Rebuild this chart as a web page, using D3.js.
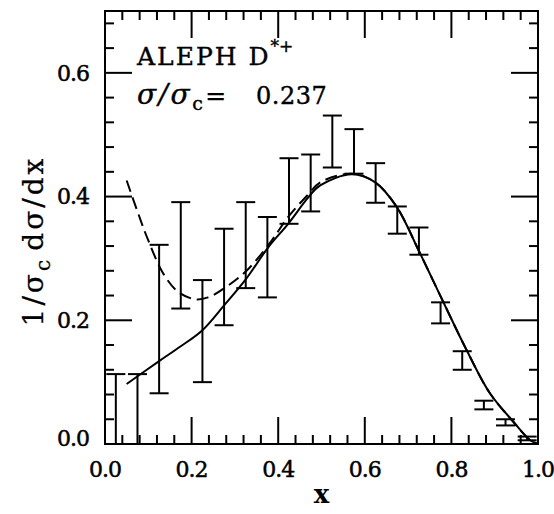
<!DOCTYPE html>
<html>
<head>
<meta charset="utf-8">
<script src="https://cdn.jsdelivr.net/npm/d3@7"></script>
<style>
  body { margin: 0; background: #fff; }
  text { font-family: "DejaVu Serif", serif; fill: #000; }
</style>
</head>
<body>
<div id="chart"></div>
<script>
// Bin centres and error bar ends.
const binX = [0.025, 0.075, 0.125, 0.175, 0.225, 0.275, 0.325, 0.375, 0.425, 0.475,
              0.525, 0.575, 0.625, 0.675, 0.725, 0.775, 0.825, 0.875, 0.925, 0.975];
const errLow = [0.0, 0.0, 0.082, 0.219, 0.100, 0.192, 0.252, 0.237, 0.356, 0.376,
                0.447, 0.437, 0.390, 0.340, 0.306, 0.195, 0.120, 0.056, 0.030, 0.006];
const errHigh = [0.113, 0.113, 0.322, 0.391, 0.265, 0.348, 0.391, 0.367, 0.462, 0.468,
                 0.531, 0.509, 0.454, 0.384, 0.350, 0.229, 0.150, 0.070, 0.040, 0.012];

// Model curves (solid and dashed).
const solidCurve = [
  [0.050, 0.097], [0.125, 0.134], [0.175, 0.158], [0.225, 0.184], [0.275, 0.224],
  [0.325, 0.266], [0.377, 0.318], [0.423, 0.356], [0.470, 0.399], [0.497, 0.418],
  [0.570, 0.436], [0.624, 0.423], [0.674, 0.383], [0.725, 0.312], [0.781, 0.230],
  [0.835, 0.152], [0.889, 0.082], [0.943, 0.036], [0.982, 0.006], [1.000, 0.000]
];
const dashedCurve = [
  [0.050, 0.426], [0.077, 0.372], [0.100, 0.329], [0.135, 0.275], [0.169, 0.246],
  [0.208, 0.234], [0.238, 0.237], [0.284, 0.256], [0.331, 0.283], [0.385, 0.329],
  [0.423, 0.367], [0.470, 0.404], [0.497, 0.423], [0.570, 0.437],
  [0.624, 0.423], [0.674, 0.383], [0.725, 0.312], [0.781, 0.230], [0.835, 0.152],
  [0.889, 0.082], [0.943, 0.036], [0.982, 0.006], [1.000, 0.000]
];

const xTicks = [0.0, 0.2, 0.4, 0.6, 0.8, 1.0];
const yTicks = [0.0, 0.2, 0.4, 0.6];
const xMinor = d3.range(0, 1.0001, 0.04);
const yMinor = d3.range(0, 0.7001, 0.04);

const width = 554, height = 514;
const margin = {top: 11, right: 16, bottom: 70, left: 105};

const x = d3.scaleLinear().domain([0, 1]).range([margin.left, width - margin.right]);
const y = d3.scaleLinear().domain([0, 0.7]).range([height - margin.bottom, margin.top]);

const svg = d3.select("#chart").append("svg")
    .attr("width", width)
    .attr("height", height);

const x0 = x(0), x1 = x(1), y0 = y(0), y1 = y(0.7);

// Ticks on all four sides.
const ticks = svg.append("g").attr("stroke", "#000").attr("stroke-width", 2);
const bigTick = 27, smallTick = 9;
xMinor.forEach(v => {
  const len = xTicks.some(t => Math.abs(t - v) < 1e-6) ? bigTick : smallTick;
  ticks.append("line").attr("x1", x(v)).attr("x2", x(v)).attr("y1", y0).attr("y2", y0 - len);
  ticks.append("line").attr("x1", x(v)).attr("x2", x(v)).attr("y1", y1).attr("y2", y1 + len);
});
yMinor.forEach(v => {
  const len = yTicks.some(t => Math.abs(t - v) < 1e-6) ? bigTick : smallTick;
  ticks.append("line").attr("y1", y(v)).attr("y2", y(v)).attr("x1", x0).attr("x2", x0 + len);
  ticks.append("line").attr("y1", y(v)).attr("y2", y(v)).attr("x1", x1).attr("x2", x1 - len);
});

// Frame.
svg.append("rect")
    .attr("x", x0).attr("y", y1)
    .attr("width", x1 - x0).attr("height", y0 - y1)
    .attr("fill", "none").attr("stroke", "#000").attr("stroke-width", 2);

// Tick labels (a thin stroke makes them a bit heavier, like the original).
svg.append("g").selectAll("text")
  .data(xTicks)
  .join("text")
    .attr("x", d => x(d))
    .attr("y", y0 + 33)
    .attr("text-anchor", "middle")
    .attr("font-size", 22)
    .attr("letter-spacing", -1)
    .attr("stroke", "#000").attr("stroke-width", 0.5)
    .text(d => d3.format(".1f")(d));

svg.append("g").selectAll("text")
  .data(yTicks)
  .join("text")
    .attr("x", x0 - 16)
    .attr("y", d => d === 0 ? y(d) - 6 : y(d))
    .attr("dy", "0.36em")
    .attr("text-anchor", "end")
    .attr("font-size", 22)
    .attr("letter-spacing", -1)
    .attr("stroke", "#000").attr("stroke-width", 0.5)
    .text(d => d3.format(".1f")(d));

// Axis titles.
svg.append("text")
    .attr("x", (x0 + x1) / 2)
    .attr("y", 503)
    .attr("text-anchor", "middle")
    .attr("font-size", 26)
    .attr("font-weight", "bold")
    .text("x");

const yl = svg.append("text")
    .attr("transform", `translate(43, 241) rotate(-90)`)
    .attr("text-anchor", "middle")
    .attr("font-size", 28)
    .attr("letter-spacing", 3)
    .attr("stroke", "#000").attr("stroke-width", 0.3);
yl.append("tspan").text("1/σ");
yl.append("tspan").attr("font-size", 20).attr("dy", 7).text("c");
yl.append("tspan").attr("dy", -7).attr("dx", 6).text("dσ/dx");

// Labels inside the frame.
const t1 = svg.append("text")
    .attr("x", 137).attr("y", 65)
    .attr("font-size", 25)
    .attr("letter-spacing", 2)
    .attr("stroke", "#000").attr("stroke-width", 0.4);
t1.append("tspan").text("ALEPH D");
t1.append("tspan").attr("font-size", 17).attr("dy", -13).attr("letter-spacing", 0).text("*+");

const t2 = svg.append("text")
    .attr("x", 137).attr("y", 104)
    .attr("font-size", 28)
    .attr("letter-spacing", 2.5)
    .attr("stroke", "#000").attr("stroke-width", 0.4);
t2.append("tspan").attr("font-style", "italic").text("σ/σ");
t2.append("tspan").attr("font-size", 19).attr("dy", 6).text("c");
t2.append("tspan").attr("dy", -6).attr("font-size", 25).text("=");
t2.append("tspan").attr("x", 256).attr("font-size", 24).attr("letter-spacing", 0.5).text("0.237");

// Error bars.
const capHalf = 9.5;
const bars = svg.append("g").attr("stroke", "#000").attr("stroke-width", 2).attr("fill", "none");
binX.forEach((bx, i) => {
  const cx = x(bx);
  bars.append("line").attr("x1", cx).attr("x2", cx).attr("y1", y(errLow[i])).attr("y2", y(errHigh[i]));
  bars.append("line").attr("x1", cx - capHalf).attr("x2", cx + capHalf).attr("y1", y(errHigh[i])).attr("y2", y(errHigh[i]));
  if (errLow[i] > 0) {
    bars.append("line").attr("x1", cx - capHalf).attr("x2", cx + capHalf).attr("y1", y(errLow[i])).attr("y2", y(errLow[i]));
  }
});

// Curves.
const line = d3.line()
    .x(d => x(d[0]))
    .y(d => y(d[1]))
    .curve(d3.curveCatmullRom);

svg.append("path")
    .datum(dashedCurve)
    .attr("d", line)
    .attr("fill", "none").attr("stroke", "#000").attr("stroke-width", 2)
    .attr("stroke-dasharray", "12,6");

svg.append("path")
    .datum(solidCurve)
    .attr("d", line)
    .attr("fill", "none").attr("stroke", "#000").attr("stroke-width", 2);
</script>
</body>
</html>
